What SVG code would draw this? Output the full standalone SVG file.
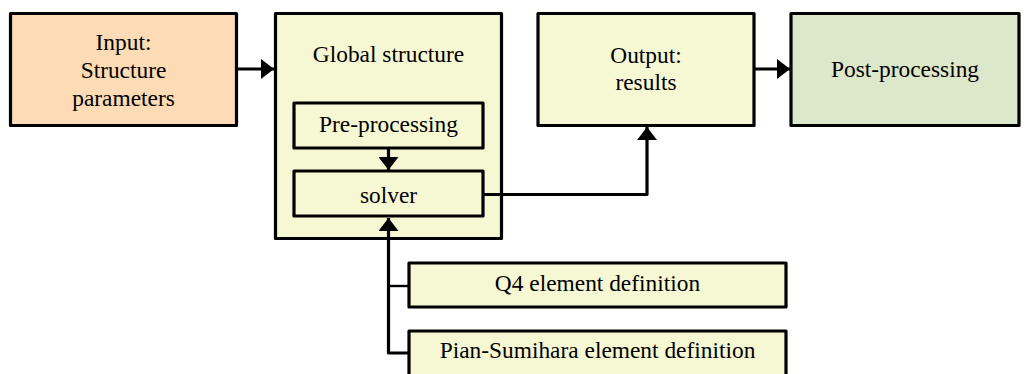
<svg xmlns="http://www.w3.org/2000/svg" width="1025" height="374" viewBox="0 0 1025 374">
<defs>
<marker id="ah" markerWidth="13" markerHeight="20" refX="13" refY="10" orient="auto" markerUnits="userSpaceOnUse">
<path d="M0,0 L13,10 L0,20 Z" fill="#000"/>
</marker>
<style>
.box{stroke:#000;stroke-width:3.2;stroke-linejoin:round}
.peach{fill:#FDDBB4}
.yel{fill:#F6F8D3}
.grn{fill:#DDE7CA}
.t{font-family:"Liberation Serif","Times New Roman",serif;font-size:23.4px;fill:#000;text-anchor:middle}
.c{stroke:#000;stroke-width:3.2;fill:none;stroke-linejoin:round}
</style>
</defs>
<g id="input">
<rect class="box peach" x="10.5" y="13.5" width="226" height="112"/>
<text class="t" x="123.5" y="50">Input:</text>
<text class="t" x="123.5" y="78">Structure</text>
<text class="t" x="123.5" y="106">parameters</text>
</g>
<g id="global">
<rect class="box yel" x="275.5" y="13.5" width="226" height="225"/>
<text class="t" x="388.5" y="62">Global structure</text>
</g>
<g id="preprocessing">
<rect class="box yel" x="294" y="103" width="189" height="45"/>
<text class="t" x="388.5" y="132">Pre-processing</text>
</g>
<g id="solver">
<rect class="box yel" x="294" y="171" width="189" height="45"/>
<text class="t" x="388.5" y="203">solver</text>
</g>
<g id="output">
<rect class="box yel" x="538" y="13.5" width="216" height="112"/>
<text class="t" x="646" y="63">Output:</text>
<text class="t" x="646" y="90">results</text>
</g>
<g id="postprocessing">
<rect class="box grn" x="791" y="13.5" width="228" height="112"/>
<text class="t" x="905" y="77">Post-processing</text>
</g>
<g id="q4">
<rect class="box yel" x="409" y="263" width="377" height="44"/>
<text class="t" x="597.5" y="291">Q4 element definition</text>
</g>
<g id="pian">
<rect class="box yel" x="409" y="331" width="377" height="46"/>
<text class="t" x="597.5" y="358">Pian-Sumihara element definition</text>
</g>
<g id="connectors">
<line class="c" x1="237" y1="69" x2="274" y2="69" marker-end="url(#ah)"/>
<line class="c" x1="388.5" y1="148" x2="388.5" y2="170" marker-end="url(#ah)"/>
<polyline class="c" points="483,194.5 647,194.5 647,127" marker-end="url(#ah)"/>
<polyline class="c" points="409,353 388.5,353 388.5,218" marker-end="url(#ah)"/>
<line class="c" x1="388.5" y1="286" x2="409" y2="286" style="stroke-width:2.4"/>
<line class="c" x1="754" y1="69" x2="790" y2="69" marker-end="url(#ah)"/>
</g>
</svg>
